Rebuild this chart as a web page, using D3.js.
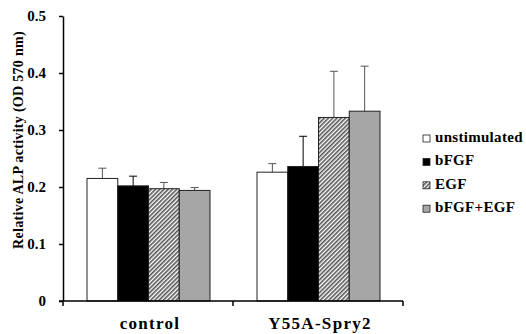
<!DOCTYPE html>
<html>
<head>
<meta charset="utf-8">
<script src="https://cdn.jsdelivr.net/npm/d3@7"></script>
<style>
  body { margin: 0; background: #fff; }
  svg text { font-family: "Liberation Serif", "Times New Roman", serif; font-weight: bold; }
</style>
</head>
<body>
<div class="chart"></div>
<script>
// data
let groups = ["control", "Y55A-Spry2"];
let treatments = ["unstimulated", "bFGF", "EGF", "bFGF+EGF"];
let controlMeans = [0.215, 0.202, 0.197, 0.194];
let controlErr = [0.018, 0.017, 0.011, 0.005];
let y55aMeans = [0.226, 0.236, 0.322, 0.333];
let y55aErr = [0.015, 0.053, 0.081, 0.079];
let yTicks = [0, 0.1, 0.2, 0.3, 0.4, 0.5];

let W = 526, H = 334;
let mLeft = 63, mRight = 403, mTop = 16, mBottom = 301;

let svg = d3.select(".chart")
    .append("svg")
    .attr("width", W)
    .attr("height", H);

// hatch for EGF
let defs = svg.append("defs");
let pat = defs.append("pattern")
    .attr("id", "hatch")
    .attr("patternUnits", "userSpaceOnUse")
    .attr("width", 3)
    .attr("height", 3)
    .attr("patternTransform", "rotate(45)");
pat.append("rect").attr("width", 3).attr("height", 3).attr("fill", "#fff");
pat.append("rect").attr("width", 1.6).attr("height", 3).attr("fill", "#555");

let fills = ["#fff", "#000", "url(#hatch)", "#a6a6a6"];

let y = d3.scaleLinear().domain([0, 0.5]).range([mBottom, mTop]);
let x0 = d3.scaleBand().domain(groups).range([mLeft, mRight]).paddingInner(0).paddingOuter(0);
let x1 = d3.scaleBand().domain(treatments).range([24, x0.bandwidth() - 23]).padding(0);

let rows = [];
groups.forEach(function (g, gi) {
    let means = gi === 0 ? controlMeans : y55aMeans;
    let errs = gi === 0 ? controlErr : y55aErr;
    treatments.forEach(function (t, i) {
        rows.push({group: g, t: t, i: i, value: means[i], err: errs[i]});
    })
})

// error bars (upper only)
let eb = svg.selectAll(".err")
    .data(rows)
    .enter()
    .append("g")
    .attr("class", "err")
    .attr("stroke", d => d.i === 1 ? "#000" : "#555")
    .attr("stroke-width", 1);
eb.append("line")
    .attr("x1", d => x0(d.group) + x1(d.t) + x1.bandwidth() / 2)
    .attr("x2", d => x0(d.group) + x1(d.t) + x1.bandwidth() / 2)
    .attr("y1", d => y(d.value))
    .attr("y2", d => y(d.value + d.err));
eb.append("line")
    .attr("x1", d => x0(d.group) + x1(d.t) + x1.bandwidth() / 2 - 4)
    .attr("x2", d => x0(d.group) + x1(d.t) + x1.bandwidth() / 2 + 4)
    .attr("y1", d => y(d.value + d.err))
    .attr("y2", d => y(d.value + d.err));

// bars
svg.selectAll(".bar")
    .data(rows)
    .enter()
    .append("rect")
    .attr("class", "bar")
    .attr("x", d => x0(d.group) + x1(d.t))
    .attr("y", d => y(d.value))
    .attr("width", x1.bandwidth())
    .attr("height", d => y(0) - y(d.value))
    .attr("fill", d => fills[d.i])
    .attr("stroke", "#222")
    .attr("stroke-width", 1);

// y axis
let yAxis = svg.append("g")
    .attr("transform", "translate(" + mLeft + ",0)")
    .call(d3.axisLeft(y).tickValues(yTicks).tickSize(4).tickSizeOuter(0)
        .tickFormat(d => d === 0 ? "0" : d3.format(".1f")(d)));
yAxis.select(".domain").attr("stroke", "#000").attr("stroke-width", 1.5);
yAxis.selectAll(".tick line").attr("stroke", "#000").attr("stroke-width", 1.5);
yAxis.selectAll(".tick text")
    .attr("x", -17)
    .attr("font-size", 15)
    .attr("fill", "#000");

// x axis
let xAxisG = svg.append("g").attr("transform", "translate(0," + mBottom + ")");
xAxisG.append("line")
    .attr("x1", mLeft - 4).attr("x2", mRight)
    .attr("stroke", "#000").attr("stroke-width", 1.5);
xAxisG.selectAll(".xt")
    .data([mLeft, x0(groups[1]), mRight])
    .enter()
    .append("line")
    .attr("x1", d => d).attr("x2", d => d)
    .attr("y1", 0).attr("y2", 5)
    .attr("stroke", "#000").attr("stroke-width", 1.5);
xAxisG.selectAll(".xl")
    .data(groups)
    .enter()
    .append("text")
    .attr("x", d => x0(d) + x0.bandwidth() / 2 + 2)
    .attr("y", 28)
    .attr("text-anchor", "middle")
    .attr("font-size", 17)
    .attr("letter-spacing", 1.3)
    .text(d => d);

// axis title
svg.append("text")
    .attr("transform", "translate(23,140) rotate(-90)")
    .attr("text-anchor", "middle")
    .attr("font-size", 14)
    .attr("letter-spacing", 0.3)
    .text("Relative ALP activity (OD 570 nm)");

// legend
let lg = svg.selectAll(".lg")
    .data(treatments)
    .enter()
    .append("g")
    .attr("class", "lg")
    .attr("transform", (d, i) => "translate(423," + (142 + i * 23.4) + ")");
lg.append("rect")
    .attr("y", -7)
    .attr("width", 7).attr("height", 7)
    .attr("fill", (d, i) => fills[i])
    .attr("stroke", "#222").attr("stroke-width", 0.8);
lg.append("text")
    .attr("x", 12).attr("y", 0)
    .attr("font-size", 15)
    .attr("letter-spacing", 0.3)
    .text(d => d);
</script>
</body>
</html>
